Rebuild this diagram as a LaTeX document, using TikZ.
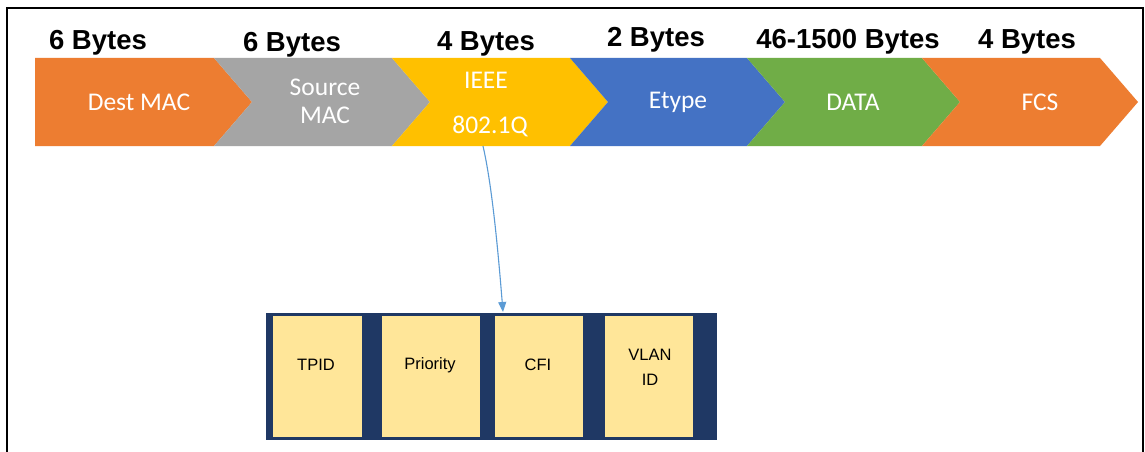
\documentclass[tikz,border=0pt]{standalone}
\usepackage{fontspec}
\setmainfont{Liberation Sans}
\newfontfamily\calfont{Carlito}
\usetikzlibrary{arrows.meta}
\definecolor{cOrange}{HTML}{ED7D31}
\definecolor{cGray}{HTML}{A5A5A5}
\definecolor{cYellow}{HTML}{FFC000}
\definecolor{cBlue}{HTML}{4472C4}
\definecolor{cGreen}{HTML}{70AD47}
\definecolor{cNavy}{HTML}{1F3864}
\definecolor{cPale}{HTML}{FFE699}
\definecolor{cLink}{HTML}{5B9BD5}
\tikzset{
  bytes/.style={font=\bfseries\fontsize{27.5}{30}\selectfont, text=black, inner sep=0pt},
  field/.style={font=\calfont\fontsize{25.5}{30}\selectfont, text=white, align=center, inner sep=0pt},
  subfield/.style={font=\fontsize{16.5}{25}\selectfont, text=black, align=center, inner sep=0pt},
  subbox/.style={fill=cPale, draw=none, minimum height=121pt, inner sep=0pt},
}
\begin{document}
\begin{tikzpicture}[x=1pt, y=-1pt]
\useasboundingbox (0,0) rectangle (1145,452);
\fill[white] (0,0) rectangle (1145,452);
% frame (open at the bottom)
\draw[line width=2.2pt, black] (7,452) -- (7,8) -- (1143,8) -- (1143,452);

% frame band: chevrons, top y=58, bottom y=146, tips at mid y=102
\def\dd{38}
\fill[cOrange] (35,58) -- (252-\dd,58) -- (252,102) -- (252-\dd,146) -- (35,146) -- cycle;
\foreach \a/\b/\c in {252/430/cGray, 430/608/cYellow, 608/785/cBlue, 785/960/cGreen, 960/1138/cOrange}{
  \fill[\c] (\a-\dd,58) -- (\b-\dd,58) -- (\b,102) -- (\b-\dd,146) -- (\a-\dd,146) -- (\a,102) -- cycle;
}

% field names
\node[field] (dmac) at (139,102) {Dest MAC};
\node[field] (smac) at (325,101) {Source\\[-2pt]MAC};
\node[field] (ieee) at (486,80) {IEEE};
\node[field] (dotq) at (490,126) {802.1Q};
\node[field] (etype) at (678,102) {Etype};
\node[field] (data) at (853,102) {DATA};
\node[field] (fcs) at (1040,102) {FCS};

% field sizes
\node[bytes] (b1) at (98,43) {6 Bytes};
\node[bytes] (b2) at (292,45) {6 Bytes};
\node[bytes] (b3) at (486,44) {4 Bytes};
\node[bytes] (b4) at (656,40) {2 Bytes};
\node[bytes] (b5) at (848,42) {46-1500 Bytes};
\node[bytes] (b6) at (1027,42) {4 Bytes};

% 802.1Q tag breakdown
\node[fill=cNavy, minimum width=451pt, minimum height=127pt, inner sep=0pt] (tag) at (491.5,376.5) {};
\node[subbox, minimum width=89pt] (tpid) at (317.5,376.5) {};
\node[subbox, minimum width=98pt] (prio) at (431,376.5) {};
\node[subbox, minimum width=88pt] (cfi) at (539,376.5) {};
\node[subbox, minimum width=88pt] (vid) at (649,376.5) {};
\node[subfield] (tpidt) at (316,365) {TPID};
\node[subfield] (priot) at (430,365) {Priority};
\node[subfield] (cfit) at (538,365) {CFI};
\node[subfield] (vidt) at (650,367) {VLAN\\ID};

% link from the tag field to its breakdown
\coordinate (qsrc) at (483,146);
\coordinate (qdst) at (503,312);
\draw[cLink, line width=1.1pt, -{Triangle[length=10pt,width=8pt]}]
  (qsrc) .. controls (492,185) and (498,250) .. (qdst);
\end{tikzpicture}
\end{document}
